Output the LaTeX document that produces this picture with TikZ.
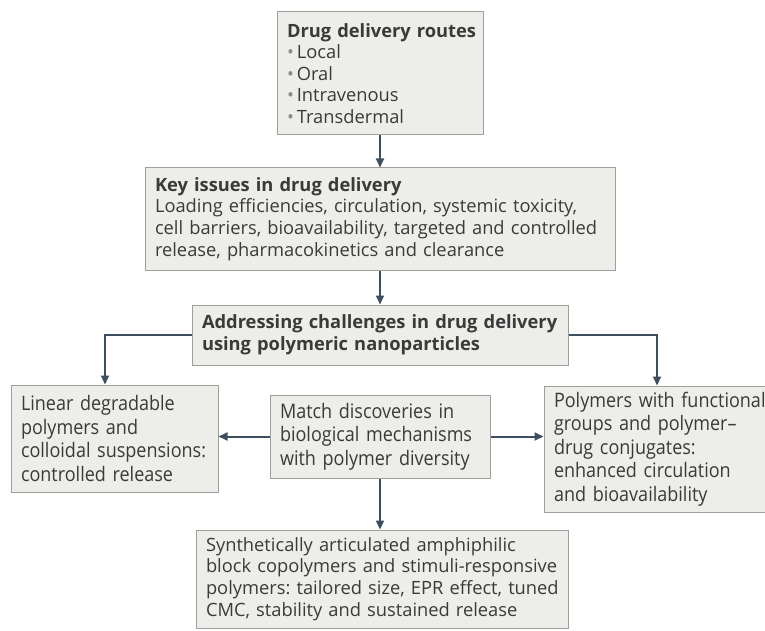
\documentclass[tikz,border=0pt]{standalone}
\usepackage{fontspec}
\setmainfont{Open Sans}
\newfontfamily\narrowfont[FakeStretch=0.9]{Open Sans}
\usetikzlibrary{arrows.meta, positioning}
\frenchspacing

\definecolor{boxfill}{HTML}{EDEDEA}
\definecolor{boxline}{HTML}{9E9E9C}
\definecolor{arrowcol}{HTML}{3D4F5F}
\definecolor{textcol}{HTML}{3A3A3A}
\definecolor{bulletcol}{HTML}{8A8A8A}

\newcommand{\bulletitem}{{\color{bulletcol}\textbullet}\hspace{3pt}}

\begin{document}
\begin{tikzpicture}[
    x=1pt, y=1pt,
    >={Triangle[length=9pt, width=8pt]},
    panel/.style={draw=boxline, fill=boxfill, line width=1pt,
                  inner xsep=0pt, inner ysep=0pt, align=left,
                  text=textcol, font=\fontsize{18.3}{21.6}\selectfont,
                  execute at begin node={\leftskip=10pt\rightskip=-30pt plus 1fil\hyphenpenalty=10000}},
    narrowpanel/.style={panel, font=\narrowfont\fontsize{20}{23.5}\selectfont},
    flow/.style={draw=arrowcol, line width=2pt, ->}
  ]
  \useasboundingbox (0,0) rectangle (765,-631);

  \node[panel, text width=206pt, minimum height=123pt] (routes) at (380,-73.5)
    {\textbf{Drug delivery routes}\\
     \bulletitem Local\\
     \bulletitem Oral\\
     \bulletitem Intravenous\\
     \bulletitem Transdermal};
  \node[panel, text width=470pt, minimum height=102pt] (issues) at (380,-219)
    {\textbf{Key issues in drug delivery}\\
     Loading efficiencies, circulation, systemic toxicity,\\
     cell barriers, bioavailability, targeted and controlled\\
     release, pharmacokinetics and clearance};
  \node[panel, text width=376pt, minimum height=60pt] (address) at (380,-335)
    {\textbf{Addressing challenges in drug delivery}\\
     \textbf{using polymeric nanoparticles}};

  \node[narrowpanel, text width=207pt, minimum height=107pt] (linear) at (114.5,-438.5)
    {Linear degradable\\
     polymers and\\
     colloidal suspensions:\\
     controlled release};
  \node[narrowpanel, text width=220pt, minimum height=83pt] (match) at (380,-436.5)
    {Match discoveries in\\
     biological mechanisms\\
     with polymer diversity};
  \node[narrowpanel, text width=240pt, minimum height=126pt] (functional) at (664,-449)
    {Polymers with functional\\
     groups and polymer–\\
     drug conjugates:\\
     enhanced circulation\\
     and bioavailability};

  \node[panel, text width=372pt, minimum height=98pt] (amphi) at (382,-579)
    {Synthetically articulated amphiphilic\\
     block copolymers and stimuli-responsive\\
     polymers: tailored size, EPR effect, tuned\\
     CMC, stability and sustained release};

  \draw[flow] (routes.south) -- (issues.north);
  \draw[flow] (issues.south) -- (address.north);
  \draw[flow] (address.west) -| ([xshift=-9.5pt]linear.north);
  \draw[flow] (address.east) -| ([xshift=-7pt]functional.north);
  \draw[flow] (match.west) -- (match.west -| linear.east);
  \draw[flow] (match.east) -- (match.east -| functional.west);
  \draw[flow] (match.south) -- (match.south |- amphi.north);
\end{tikzpicture}
\end{document}
